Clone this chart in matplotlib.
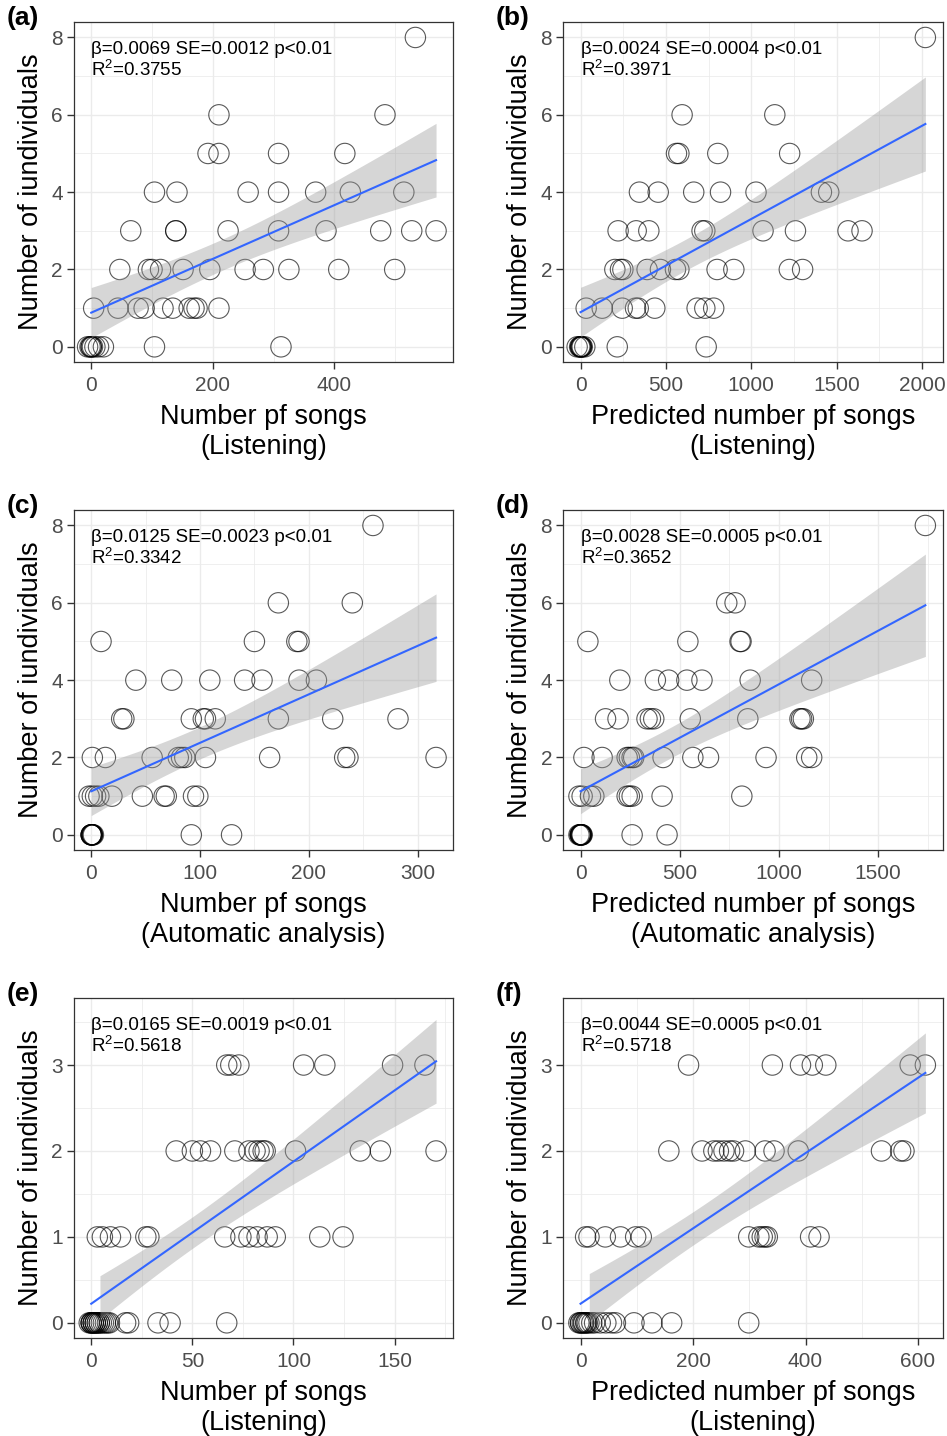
# ==========================================================
# Number of individuals vs number of songs - 6 panels
# ==========================================================

import numpy as np
import matplotlib.pyplot as plt
from matplotlib.ticker import MultipleLocator
import matplotlib.transforms as mtransforms

plt.rcParams["font.family"] = ["Liberation Sans", "DejaVu Sans"]
plt.rcParams["mathtext.fontset"] = "custom"
plt.rcParams["mathtext.rm"] = "Liberation Sans"
plt.rcParams["mathtext.it"] = "Liberation Sans:italic"

# ==========================================================
# DATA (grouped by y value;
# the dark clusters at 0 hide several overlapping circles)
# ==========================================================

a_x = [533,
       210, 483,
       192, 210, 308, 417,
       104, 141, 258, 308, 369, 426, 514,
       65, 139, 139, 225, 308, 386, 476, 527, 567,
       47, 94, 100, 114, 151, 195, 253, 283, 325, 407, 499,
       4, 44, 77, 87, 118, 134, 161, 169, 174, 210,
       -6, 0, 6, 12, 20, 104, 312, 0, 2, -2]
a_y = [8] * 1 + [6] * 2 + [5] * 4 + [4] * 7 + [3] * 9 + [2] * 11 + [1] * 10 + [0] * 10

b_x = [2020,
       595, 1138,
       562, 576, 804, 1225,
       345, 455, 663, 820, 1028, 1411, 1454,
       220, 326, 400, 712, 728, 1069, 1259, 1567, 1649,
       201, 234, 248, 390, 468, 556, 576, 800, 898, 1223, 1301,
       33, 127, 244, 322, 338, 435, 683, 728, 780,
       -20, 5, 25, 215, 736, 0, 5, 10, -5, 0]
b_y = [8] * 1 + [6] * 2 + [5] * 4 + [4] * 7 + [3] * 9 + [2] * 11 + [1] * 9 + [0] * 10

c_x = [259,
       172, 240,
       9, 150, 189, 191,
       41, 74, 109, 141, 157, 191, 207,
       28, 30, 92, 103, 105, 114, 172, 222, 282,
       1, 13, 56, 80, 83, 86, 105, 164, 233, 236, 317,
       -2, 1, 4, 7, 19, 47, 67, 69, 94, 98,
       0, 1, 92, 129, 0, 0, 1, 1, 2, 0]
c_y = [8] * 1 + [6] * 2 + [5] * 4 + [4] * 7 + [3] * 9 + [2] * 11 + [1] * 10 + [0] * 10

d_x = [1738,
       737, 779,
       37, 541, 804, 809,
       198, 377, 444, 536, 612, 855, 1165,
       126, 189, 335, 352, 369, 553, 843, 1106, 1114, 1123,
       17, 109, 235, 246, 260, 268, 416, 566, 645, 935, 1140, 1165,
       -8, 8, 50, 67, 235, 246, 260, 411, 813,
       -8, 0, 260, 436, 0, 3, 6, -3, 0, 4, 8]
d_y = [8] * 1 + [6] * 2 + [5] * 4 + [4] * 7 + [3] * 10 + [2] * 12 + [1] * 9 + [0] * 11

e_x = [67, 69, 73, 105, 115.5, 149, 165,
       42, 50, 54, 59, 71, 78, 81, 83, 85, 86, 101, 133, 143, 170.5,
       3, 5.5, 9.5, 14.5, 27, 28.5, 66, 74, 78, 82, 87, 91, 113, 124.5,
       -1, 0, 1, 2, 3, 4, 5, 6, 7, 8, 9, 17, 18.5, 33, 39, 67,
       0, 1, 2, 3, 0, 1, 2, 4]
e_y = [3] * 7 + [2] * 14 + [1] * 14 + [0] * 24

f_x = [192, 341, 391, 412, 436, 586, 613,
       157, 216, 237, 245, 255, 265, 272, 293, 328, 344, 387, 535, 569, 575,
       9, 15, 44, 71, 98, 108, 299, 317, 323, 328, 332, 409, 424,
       -3, 0, 5, 10, 15, 20, 25, 35, 45, 55, 62, 95, 127, 162, 299,
       0, 3, 6, 9, 12]
f_y = [3] * 7 + [2] * 14 + [1] * 13 + [0] * 20

tags = ["(a)", "(b)", "(c)", "(d)", "(e)", "(f)"]
stats_beta = ["β=0.0069 SE=0.0012 p<0.01", "β=0.0024 SE=0.0004 p<0.01",
              "β=0.0125 SE=0.0023 p<0.01", "β=0.0028 SE=0.0005 p<0.01",
              "β=0.0165 SE=0.0019 p<0.01", "β=0.0044 SE=0.0005 p<0.01"]
stats_r2 = ["0.3755", "0.3971", "0.3342", "0.3652", "0.5618", "0.5718"]
xlabels = ["Number pf songs\n(Listening)",
           "Predicted number pf songs\n(Listening)",
           "Number pf songs\n(Automatic analysis)",
           "Predicted number pf songs\n(Automatic analysis)",
           "Number pf songs\n(Listening)",
           "Predicted number pf songs\n(Listening)"]
x_major = [200, 500, 100, 500, 50, 200]
y_top = [8, 8, 8, 8, 3.6, 3.6]
y_major = [2, 2, 2, 2, 1, 1]

# ==========================================================
# LAYOUT (pixels of the 947 x 1436 figure)
# ==========================================================

W, H = 947, 1436
LEFTS = [74, 563.3]
TOPS = [22, 510, 998]
PW, PH = 379.3, 340.3
T95 = 2.01

LINE_COL = "#3366FF"
GRID_COL = "#EBEBEB"
TICK_COL = "#4D4D4D"
FRAME_COL = "#333333"


def painel(fig, i, x, y):

    col, row = i % 2, i // 2
    left = LEFTS[col]
    top = TOPS[row]
    ax = fig.add_axes([left / W, 1 - (top + PH) / H, PW / W, PH / H])

    x = np.asarray(x, dtype=float)
    y = np.asarray(y, dtype=float)

    # linear fit + 95% confidence band (like geom_smooth(method="lm"))
    n = len(x)
    slope, inter = np.polyfit(x, y, 1)
    resid = y - (inter + slope * x)
    s = np.sqrt(np.sum(resid ** 2) / (n - 2))
    sxx = np.sum((x - x.mean()) ** 2)
    xs = np.linspace(0, x.max(), 80)
    fit = inter + slope * xs
    se = s * np.sqrt(1 / n + (xs - x.mean()) ** 2 / sxx)
    lo = fit - T95 * se
    hi = fit + T95 * se
    ok = lo >= 0

    ax.scatter(x, y, s=215, facecolors="none", edgecolors="black",
               linewidths=0.8, alpha=0.65, zorder=3)
    ax.fill_between(xs[ok], lo[ok], hi[ok], color="#999999", alpha=0.4,
                    linewidth=0, zorder=4)
    ax.plot(xs, fit, color=LINE_COL, lw=1.5, zorder=5)

    # axis limits with 5% expansion
    xr = x.max()
    ax.set_xlim(-0.05 * xr, xr * 1.05)
    ax.set_ylim(-0.05 * y_top[i], y_top[i] * 1.05)

    ax.xaxis.set_major_locator(MultipleLocator(x_major[i]))
    ax.xaxis.set_minor_locator(MultipleLocator(x_major[i] / 2))
    ax.yaxis.set_major_locator(MultipleLocator(y_major[i]))
    ax.yaxis.set_minor_locator(MultipleLocator(y_major[i] / 2))

    ax.grid(which="major", color=GRID_COL, lw=1.0, zorder=0)
    ax.grid(which="minor", color=GRID_COL, lw=0.55, zorder=0)
    ax.set_axisbelow(True)

    ax.tick_params(which="major", length=5, width=1.0, color=FRAME_COL,
                   labelcolor=TICK_COL, labelsize=15)
    ax.tick_params(axis="x", which="major", pad=5)
    ax.tick_params(axis="y", which="major", pad=3)
    ax.tick_params(which="minor", length=0)
    for sp in ax.spines.values():
        sp.set_color(FRAME_COL)
        sp.set_linewidth(0.9)

    ax.set_xlabel(xlabels[i], fontsize=19.5, linespacing=1.2, labelpad=6)
    ax.set_ylabel("Number of iundividuals", fontsize=19.5, labelpad=5)

    trans = mtransforms.blended_transform_factory(ax.transData, ax.transAxes)
    ax.text(0, 0.918, stats_beta[i], transform=trans, fontsize=13.5,
            ha="left", va="center", zorder=6)
    ax.text(0, 0.860, "R$^{2}$=" + stats_r2[i], transform=trans,
            fontsize=13.5, ha="left", va="center", zorder=6)

    fig.text((7 if col == 0 else 496) / W, 1 - (top - 4) / H, tags[i],
             fontsize=19, fontweight="bold", ha="left", va="center")

    return ax


def main():

    fig = plt.figure(figsize=(W / 100, H / 100), dpi=100)

    dados = [(a_x, a_y), (b_x, b_y), (c_x, c_y),
             (d_x, d_y), (e_x, e_y), (f_x, f_y)]

    for i, (x, y) in enumerate(dados):
        painel(fig, i, x, y)

    fig.savefig("out.png", dpi=100, facecolor="white")


if __name__ == "__main__":

    main()
